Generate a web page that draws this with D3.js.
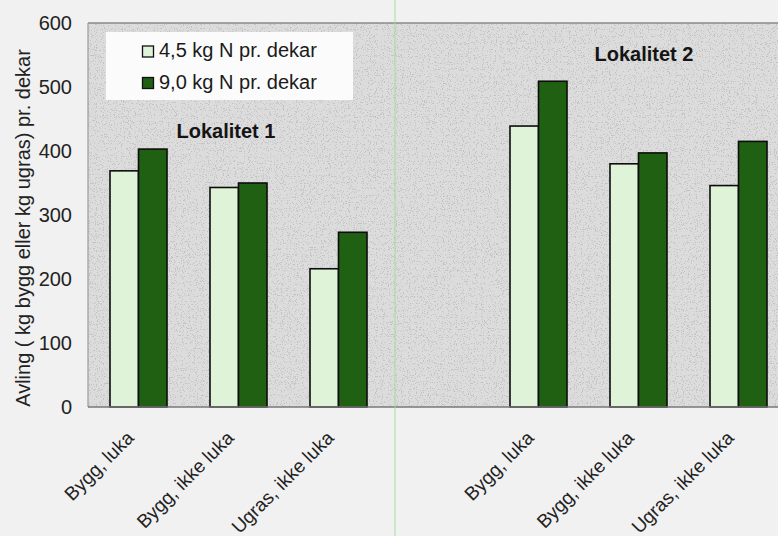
<!DOCTYPE html>
<html>
<head>
<meta charset="utf-8">
<script src="https://cdn.jsdelivr.net/npm/d3@7"></script>
<style>
  html, body { margin: 0; padding: 0; background: #f1f1f1; }
  svg { display: block; font-family: "Liberation Sans", Arial, sans-serif; }
</style>
</head>
<body>
<svg id="chart" width="778" height="536"></svg>
<script>
// ---- data ----
const categories = ["Bygg, luka", "Bygg, ikke luka", "Ugras, ikke luka"];
const sites = ["Lokalitet 1", "Lokalitet 2"];
const seriesNames = ["4,5 kg N pr. dekar", "9,0 kg N pr. dekar"];
const lowN  = [369, 343, 216, 439, 380, 346];   // 4,5 kg N: Lokalitet 1 (3), Lokalitet 2 (3)
const highN = [403, 350, 273, 509, 397, 415];   // 9,0 kg N
const yTicks = [0, 100, 200, 300, 400, 500, 600];
const yTitle = "Avling ( kg bygg eller kg ugras) pr. dekar";

// ---- layout ----
const W = 778, H = 536;
const plot = { left: 88, top: 23, bottom: 407, right: 788 };
const colors = ["#dff3d9", "#1f6012"];

const svg = d3.select("#chart");

// slot keys: 3 categories, one empty slot, 3 categories
const slots = [];
sites.forEach((s, si) => {
  categories.forEach((c, ci) => slots.push({ key: s + "|" + c, site: si, cat: c, idx: si * 3 + ci }));
  if (si === 0) slots.push({ key: "gap", site: -1, cat: "", idx: -1 });
});

const x = d3.scaleBand().domain(slots.map(d => d.key)).range([plot.left, plot.right]).paddingInner(0).paddingOuter(0);
const xs = d3.scaleBand().domain([0, 1]).range([x.bandwidth() * 0.22, x.bandwidth() * 0.79]).padding(0);
const y = d3.scaleLinear().domain([0, 600]).range([plot.bottom, plot.top]);

// defs: speckle texture
const defs = svg.append("defs");
const f = defs.append("filter").attr("id", "speckle").attr("x", 0).attr("y", 0).attr("width", "100%").attr("height", "100%");
f.append("feTurbulence").attr("type", "fractalNoise").attr("baseFrequency", 0.85).attr("numOctaves", 2).attr("seed", 7).attr("result", "n");
f.append("feColorMatrix").attr("in", "n").attr("type", "matrix")
  .attr("values", "0 0 0 0 0.45  0 0 0 0 0.45  0 0 0 0 0.45  0 0 0 14 -8.4");

// page background
svg.append("rect").attr("width", W).attr("height", H).attr("fill", "#f1f1f1");

// plot area
svg.append("rect")
  .attr("x", plot.left).attr("y", plot.top)
  .attr("width", plot.right - plot.left).attr("height", plot.bottom - plot.top)
  .attr("fill", "#dcdcdc");
svg.append("rect")
  .attr("x", plot.left).attr("y", plot.top)
  .attr("width", plot.right - plot.left).attr("height", plot.bottom - plot.top)
  .attr("fill", "#fff").attr("filter", "url(#speckle)").attr("opacity", 0.6);

// borders
svg.append("line").attr("x1", plot.left).attr("x2", plot.right).attr("y1", plot.top).attr("y2", plot.top)
  .attr("stroke", "#8a8a8a").attr("stroke-width", 1.5);
svg.append("line").attr("x1", plot.left).attr("x2", plot.left).attr("y1", plot.top).attr("y2", plot.bottom)
  .attr("stroke", "#9a9a9a").attr("stroke-width", 1.2);

// legend box
const lg = svg.append("g");
lg.append("rect").attr("x", 106).attr("y", 32).attr("width", 247).attr("height", 68).attr("fill", "#fbfbfb");
seriesNames.forEach((name, i) => {
  const gy = 46 + i * 31.5;
  lg.append("rect").attr("x", 142.5).attr("y", gy).attr("width", 11).attr("height", 11)
    .attr("fill", colors[i]).attr("stroke", "#111").attr("stroke-width", 1.3);
  lg.append("text").attr("x", 159).attr("y", gy + 11).attr("font-size", 20).attr("fill", "#1a1a1a").text(name);
});

// bars
const groups = svg.append("g").selectAll("g")
  .data(slots.filter(d => d.idx >= 0))
  .join("g")
  .attr("transform", d => `translate(${x(d.key)},0)`);
groups.selectAll("rect")
  .data(d => [lowN[d.idx], highN[d.idx]].map((v, s) => ({ v, s })))
  .join("rect")
  .attr("x", d => xs(d.s))
  .attr("width", xs.bandwidth())
  .attr("y", d => y(d.v))
  .attr("height", d => y(0) - y(d.v))
  .attr("fill", d => colors[d.s])
  .attr("stroke", "#0d0d0d")
  .attr("stroke-width", 1.6);

// bottom axis line
svg.append("line").attr("x1", plot.left).attr("x2", plot.right).attr("y1", plot.bottom).attr("y2", plot.bottom)
  .attr("stroke", "#777").attr("stroke-width", 1.5);

// y axis
const yAxis = svg.append("g").attr("transform", `translate(${plot.left},0)`)
  .call(d3.axisLeft(y).tickValues(yTicks).tickSize(0).tickPadding(16));
yAxis.select(".domain").remove();
yAxis.selectAll("text").attr("font-size", 20).attr("fill", "#222").attr("font-family", "Liberation Sans, Arial, sans-serif");

// x axis
const labelMap = new Map(slots.map(d => [d.key, d.cat]));
const xAxis = svg.append("g").attr("transform", `translate(0,${plot.bottom})`)
  .call(d3.axisBottom(x).tickSize(0).tickFormat(k => labelMap.get(k)));
xAxis.select(".domain").remove();
xAxis.selectAll("text")
  .attr("font-size", 19).attr("fill", "#222").attr("font-family", "Liberation Sans, Arial, sans-serif")
  .attr("text-anchor", "end")
  .attr("dy", null).attr("y", 0)
  .attr("transform", "translate(-3,32) rotate(-45)");

// site labels
svg.append("text").attr("x", x(slots[1].key) + 38).attr("y", y(420)).attr("text-anchor", "middle")
  .attr("font-size", 20).attr("font-weight", "bold").attr("fill", "#141414").text(sites[0]);
svg.append("text").attr("x", x(slots[5].key) + x.bandwidth() / 2 + 6).attr("y", y(540)).attr("text-anchor", "middle")
  .attr("font-size", 20).attr("font-weight", "bold").attr("fill", "#141414").text(sites[1]);

// y title
svg.append("text").attr("transform", `translate(30,${(44 + 412) / 2}) rotate(-90)`).attr("text-anchor", "middle")
  .attr("font-size", 20).attr("fill", "#222").text(yTitle);

// thin green page line
svg.append("line").attr("x1", 395).attr("x2", 395).attr("y1", 0).attr("y2", H)
  .attr("stroke", "#9fdc9f").attr("stroke-width", 1).attr("opacity", 0.9);
</script>
</body>
</html>
